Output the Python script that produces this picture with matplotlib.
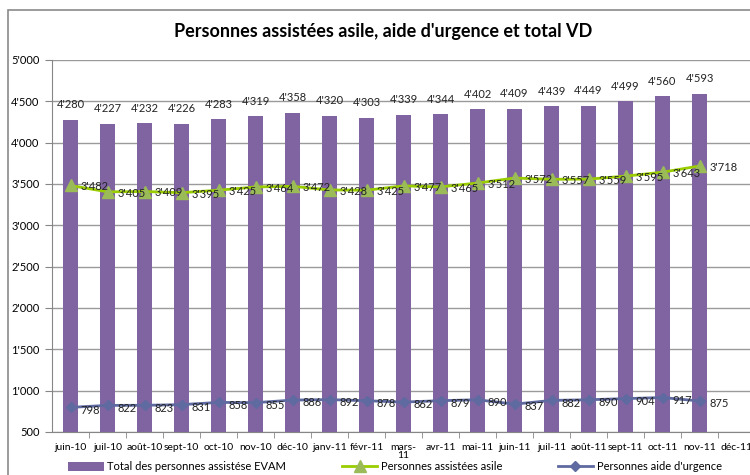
import numpy as np
import matplotlib
matplotlib.use("Agg")
import matplotlib.pyplot as plt
from matplotlib.ticker import FuncFormatter
from matplotlib.patches import Rectangle

plt.rcParams['font.family'] = ['Lato', 'DejaVu Sans']

# data
months = ["juin-10", "juil-10", "août-10", "sept-10", "oct-10", "nov-10", "déc-10",
          "janv-11", "févr-11", "mars-\n11", "avr-11", "mai-11", "juin-11", "juil-11",
          "août-11", "sept-11", "oct-11", "nov-11", "déc-11"]
total_evam = [4280, 4227, 4232, 4226, 4283, 4319, 4358, 4320, 4303, 4339, 4344,
              4402, 4409, 4439, 4449, 4499, 4560, 4593]
asile = [3482, 3405, 3409, 3395, 3425, 3464, 3472, 3428, 3425, 3477, 3465,
         3512, 3572, 3557, 3559, 3595, 3643, 3718]
urgence = [798, 822, 823, 831, 858, 855, 886, 892, 878, 862, 879,
           890, 837, 882, 890, 904, 917, 875]

def fmt(v):
    return f"{int(v):,}".replace(",", "'")

purple = "#8064A2"
green_line = "#9ACD00"
green_marker = "#9BBB59"
blue = "#5E6AA0"

fig = plt.figure(figsize=(7.5, 4.75), dpi=100)
# outer chart border (left and top visible)
fig.patches.append(Rectangle((8 / 750, -0.05), 1.1, 1 - 10 / 475 + 0.05,
                             transform=fig.transFigure, fill=False,
                             edgecolor="#8a8a8a", linewidth=1.2))

ax = fig.add_axes([52 / 750, 43 / 475, 703 / 750, 372 / 475])
x = np.arange(len(total_evam))

bars = ax.bar(x, total_evam, width=0.43, color=purple, zorder=2,
              label="Total des personnes assistése EVAM")
l1, = ax.plot(x, asile, color=green_line, linewidth=2, marker="^", markersize=8,
              markerfacecolor=green_marker, markeredgecolor=green_marker, zorder=3,
              label="Personnes assistées asile")
l2, = ax.plot(x, urgence, color=blue, linewidth=2, marker="D", markersize=5,
              markerfacecolor=blue, markeredgecolor=blue, zorder=3,
              label="Personnes aide d'urgence")

for xi, v in zip(x, total_evam):
    ax.annotate(fmt(v), (xi, v), xytext=(0, 7), textcoords="offset points",
                ha="center", va="bottom", fontsize=8, color="#222222")
for xi, v in zip(x, asile):
    ax.annotate(fmt(v), (xi, v), xytext=(7, -1), textcoords="offset points",
                ha="left", va="center", fontsize=8, color="#222222", zorder=4)
for xi, v in zip(x, urgence):
    ax.annotate(fmt(v), (xi, v), xytext=(7, -2), textcoords="offset points",
                ha="left", va="center", fontsize=8, color="#222222", zorder=4)

ax.set_xlim(-0.5, len(months) - 0.5)
ax.set_ylim(500, 5000)
ax.set_yticks(np.arange(500, 5001, 500))
ax.yaxis.set_major_formatter(FuncFormatter(lambda v, p: fmt(v)))
ax.set_xticks(np.arange(len(months)))
ax.set_xticklabels(months, linespacing=0.9)
ax.set_xticks(np.arange(len(months)) + 0.5, minor=True)
ax.tick_params(axis="x", which="major", length=0, pad=8, labelsize=7.5)
ax.tick_params(axis="x", which="minor", length=4, color="#868686", direction="out")
ax.tick_params(axis="y", length=5, color="#868686", labelsize=8, pad=4)
ax.grid(axis="y", color="#9a9a9a", linewidth=1, zorder=0)
for s in ["top", "right"]:
    ax.spines[s].set_visible(False)
ax.spines["left"].set_color("#868686")
ax.spines["bottom"].set_color("#868686")

fig.text(383 / 750, 1 - 32 / 475, "Personnes assistées asile, aide d'urgence et total VD",
         ha="center", va="center", fontsize=13, fontweight="bold")

fig.legend(handles=[bars, l1, l2], loc="center", bbox_to_anchor=(395 / 750, 1 - 467 / 475),
           ncol=3, frameon=False, fontsize=8, columnspacing=5, handlelength=3.2,
           handleheight=0.8, handletextpad=0.3, borderpad=0.2)

fig.savefig("out.png", dpi=100)
